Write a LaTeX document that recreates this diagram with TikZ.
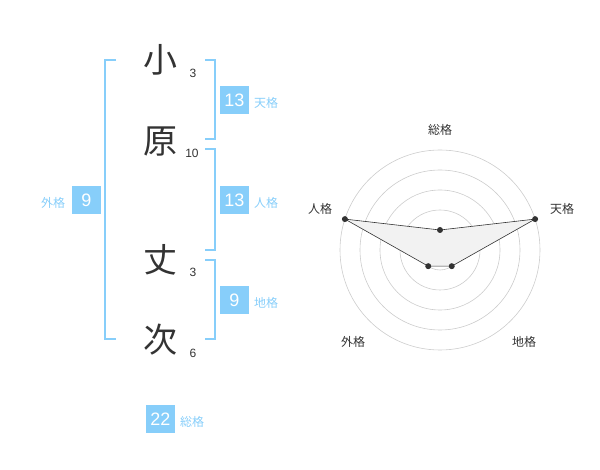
\documentclass[tikz,border=0pt]{standalone}
\usepackage{fontspec}
\setmainfont{Liberation Sans}
\newfontfamily\jp{Noto Sans CJK JP}
\definecolor{sky}{HTML}{87CEFA}
\definecolor{ink}{HTML}{333333}
\tikzset{
    kanji/.style = {font = \jp\fontsize{34}{34}\selectfont, text = ink, inner sep = 0pt},
    strokes/.style = {font = \fontsize{12}{12}\selectfont, text = ink, inner sep = 0pt},
    score/.style = {fill = sky, text = white, minimum width = 29pt, minimum height = 28pt, inner sep = 0pt, font = \fontsize{18}{18}\selectfont},
    kaku/.style = {text = sky, font = \jp\fontsize{12}{12}\selectfont, inner sep = 0pt},
    axis/.style = {text = ink, font = \jp\fontsize{12}{12}\selectfont, inner sep = 0pt},
    bracket/.style = {draw = sky, line width = 1.6pt},
    dot/.style = {circle, fill = ink, inner sep = 0pt, minimum size = 6pt}
}
\begin{document}
\begin{tikzpicture}[x = 1pt, y = -1pt]
    \useasboundingbox (0,0) rectangle (600,470);
    \begin{scope}
        \node[kanji] (k1) at (160,60) {小};
        \node[kanji] (k2) at (160,142) {原};
        \node[kanji] (k3) at (160,260) {丈};
        \node[kanji] (k4) at (160,340) {次};
        \node[strokes] (n1) at (193,73) {3};
        \node[strokes] (n2) at (192,153) {10};
        \node[strokes] (n3) at (193,272) {3};
        \node[strokes] (n4) at (193,353) {6};
        \begin{scope}[style = bracket]
            \draw (116,60) -- (105,60) -- (105,339) -- (116,339);
            \draw (205,60) -- (215,60) -- (215,139) -- (205,139);
            \draw (205,149) -- (215,149) -- (215,250) -- (205,250);
            \draw (205,260) -- (215,260) -- (215,339) -- (205,339);
        \end{scope}
        \node[score] (ten) at (234.5,100) {13};
        \node[score] (jin) at (234.5,200) {13};
        \node[score] (chi) at (234.5,300) {9};
        \node[score] (gai) at (86.5,200) {9};
        \node[score] (sou) at (160.5,419) {22};
        \node[kaku] at (266,103) {天格};
        \node[kaku] at (266,203) {人格};
        \node[kaku] at (266,303) {地格};
        \node[kaku] at (53,203) {外格};
        \node[kaku] at (192,422) {総格};
    \end{scope}
    \begin{scope}[shift = {(440,250)}, yscale = -1]
        \foreach \r in {20,40,...,100}
            \draw[gray!40, line width = 0.6pt] (0,0) circle (\r pt);
        \fill[gray!45] (0,0) circle (3.5pt);
        \draw[fill = gray!10, draw = ink, line width = 0.6pt] (90:20) -- (18:100) -- (-54:20) -- (-126:20) -- (162:100) -- cycle;
        \node[dot] (p1) at (90:20) {};
        \node[dot] (p2) at (18:100) {};
        \node[dot] (p3) at (-54:20) {};
        \node[dot] (p4) at (-126:20) {};
        \node[dot] (p5) at (162:100) {};
        \node[axis] (a1) at (0,120) {総格};
        \node[axis] (a2) at (122,41) {天格};
        \node[axis] (a3) at (84,-92) {地格};
        \node[axis] (a4) at (-87,-92) {外格};
        \node[axis] (a5) at (-120,41) {人格};
    \end{scope}
\end{tikzpicture}
\end{document}
